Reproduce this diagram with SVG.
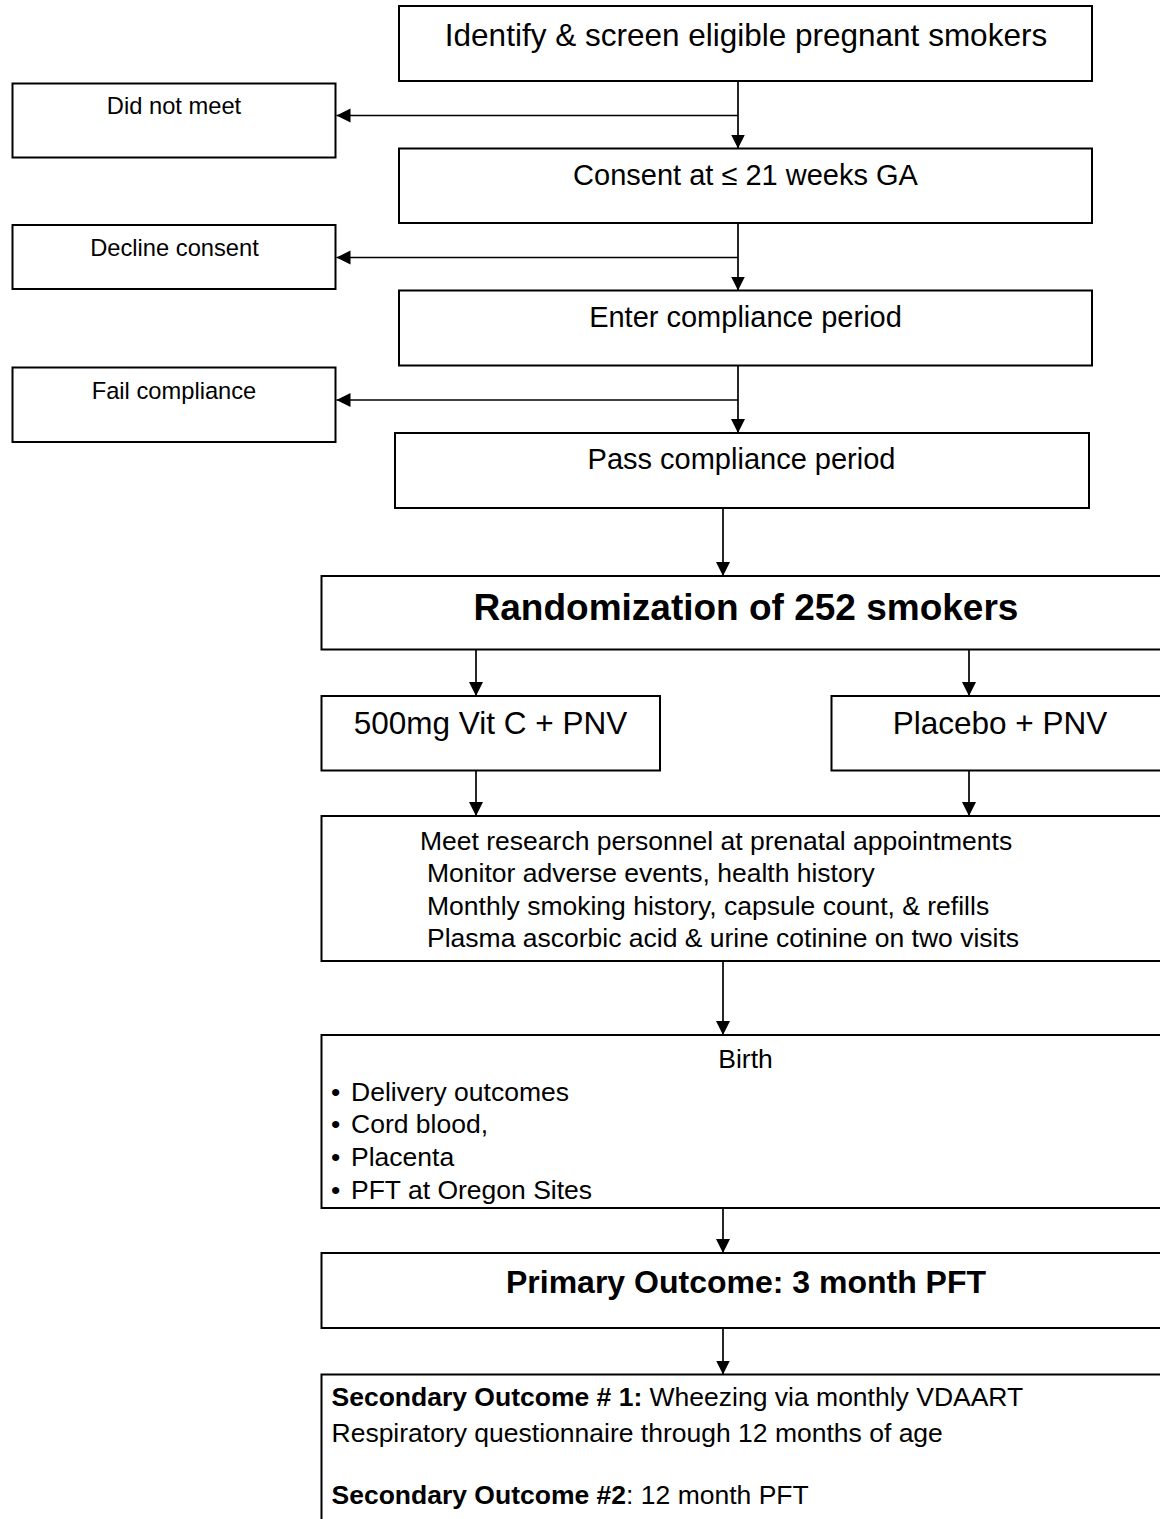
<svg xmlns="http://www.w3.org/2000/svg" width="1160" height="1519" viewBox="0 0 1160 1519">
<style>
.box{fill:#fff;stroke:#000;stroke-width:2}
.t{font-family:"Liberation Sans",Arial,sans-serif;fill:#000}
.c{text-anchor:middle}
.b{font-weight:bold}
.con{stroke:#000;stroke-width:1.7;fill:none}
</style>
<defs>
<marker id="ah" markerUnits="userSpaceOnUse" markerWidth="15" markerHeight="15" refX="14" refY="7" orient="auto">
<path d="M0,0 L14,7 L0,14 Z" fill="#000"/>
</marker>
<clipPath id="clipBirth"><rect x="322" y="1036" width="840" height="1161"/></clipPath>
</defs>
<rect width="1160" height="1519" fill="#fff"/>
<g id="connectors">
<line class="con" x1="738" y1="81" x2="738" y2="148.5" marker-end="url(#ah)"/>
<line class="con" x1="738" y1="115.5" x2="336.5" y2="115.5" marker-end="url(#ah)"/>
<line class="con" x1="738" y1="223" x2="738" y2="290.5" marker-end="url(#ah)"/>
<line class="con" x1="738" y1="257.5" x2="336.5" y2="257.5" marker-end="url(#ah)"/>
<line class="con" x1="738" y1="365.5" x2="738" y2="433" marker-end="url(#ah)"/>
<line class="con" x1="738" y1="400" x2="336.5" y2="400" marker-end="url(#ah)"/>
<line class="con" x1="723" y1="508" x2="723" y2="576" marker-end="url(#ah)"/>
<line class="con" x1="476" y1="649.5" x2="476" y2="696" marker-end="url(#ah)"/>
<line class="con" x1="969" y1="649.5" x2="969" y2="696" marker-end="url(#ah)"/>
<line class="con" x1="476" y1="770.5" x2="476" y2="816" marker-end="url(#ah)"/>
<line class="con" x1="969" y1="770.5" x2="969" y2="816" marker-end="url(#ah)"/>
<line class="con" x1="723" y1="961" x2="723" y2="1035" marker-end="url(#ah)"/>
<line class="con" x1="723" y1="1208" x2="723" y2="1253" marker-end="url(#ah)"/>
<line class="con" x1="723" y1="1328" x2="723" y2="1374.5" marker-end="url(#ah)"/>
</g>
<g id="identify">
<rect class="box" x="399" y="6" width="693" height="75"/>
<text class="t c" x="746" y="45.5" font-size="31.5">Identify &amp; screen eligible pregnant smokers</text>
</g>
<g id="did-not-meet">
<rect class="box" x="12.5" y="83.5" width="323" height="74"/>
<text class="t c" x="174" y="114" font-size="23.7">Did not meet</text>
</g>
<g id="consent">
<rect class="box" x="399" y="148.5" width="693" height="74.5"/>
<text class="t c" x="745.5" y="185" font-size="29">Consent at ≤ 21 weeks GA</text>
</g>
<g id="decline-consent">
<rect class="box" x="12.5" y="225" width="323" height="64"/>
<text class="t c" x="174.5" y="256" font-size="23.7">Decline consent</text>
</g>
<g id="enter-compliance">
<rect class="box" x="399" y="290.5" width="693" height="75"/>
<text class="t c" x="745.5" y="326.5" font-size="29">Enter compliance period</text>
</g>
<g id="fail-compliance">
<rect class="box" x="12.5" y="367.5" width="323" height="74.5"/>
<text class="t c" x="174" y="399" font-size="23.7">Fail compliance</text>
</g>
<g id="pass-compliance">
<rect class="box" x="395" y="433" width="694" height="75"/>
<text class="t c" x="741.5" y="468.5" font-size="29">Pass compliance period</text>
</g>
<g id="randomization">
<rect class="box" x="321.5" y="576" width="860" height="73.5"/>
<text class="t c b" x="746" y="619.5" font-size="37">Randomization of 252 smokers</text>
</g>
<g id="vitc">
<rect class="box" x="321.5" y="696" width="338.5" height="74.5"/>
<text class="t c" x="490.5" y="734" font-size="31.5">500mg Vit C + PNV</text>
</g>
<g id="placebo">
<rect class="box" x="831.5" y="696" width="360" height="74.5"/>
<text class="t c" x="1000" y="734" font-size="31.5">Placebo + PNV</text>
</g>
<g id="prenatal">
<rect class="box" x="321.5" y="816" width="860" height="145"/>
<text class="t" font-size="26.5">
<tspan x="420" y="849.5">Meet research personnel at prenatal appointments</tspan>
<tspan x="427" y="882">Monitor adverse events, health history</tspan>
<tspan x="427" y="914.5">Monthly smoking history, capsule count, &amp; refills</tspan>
<tspan x="427" y="947">Plasma ascorbic acid &amp; urine cotinine on two visits</tspan>
</text>
</g>
<g id="birth">
<rect class="box" x="321.5" y="1035" width="860" height="173"/>
<text class="t c" x="745.5" y="1068" font-size="26.5">Birth</text>
<g clip-path="url(#clipBirth)">
<text class="t" font-size="26.5">
<tspan x="331" y="1100.5">•</tspan><tspan x="351" y="1100.5">Delivery outcomes</tspan>
<tspan x="331" y="1133">•</tspan><tspan x="351" y="1133">Cord blood,</tspan>
<tspan x="331" y="1165.5">•</tspan><tspan x="351" y="1165.5">Placenta</tspan>
<tspan x="331" y="1199">•</tspan><tspan x="351" y="1199">PFT at Oregon Sites</tspan>
</text>
</g>
</g>
<g id="primary">
<rect class="box" x="321.5" y="1253" width="860" height="75"/>
<text class="t c b" x="746" y="1292.5" font-size="32">Primary Outcome: 3 month PFT</text>
</g>
<g id="secondary">
<rect class="box" x="321.5" y="1374.5" width="860" height="170"/>
<text class="t" font-size="26.5">
<tspan x="331.5" y="1405.5"><tspan font-weight="bold">Secondary Outcome # 1:</tspan> Wheezing via monthly VDAART</tspan>
<tspan x="331.5" y="1441.5">Respiratory questionnaire through 12 months of age</tspan>
<tspan x="331.5" y="1504"><tspan font-weight="bold">Secondary Outcome #2</tspan>: 12 month PFT</tspan>
</text>
</g>
</svg>
